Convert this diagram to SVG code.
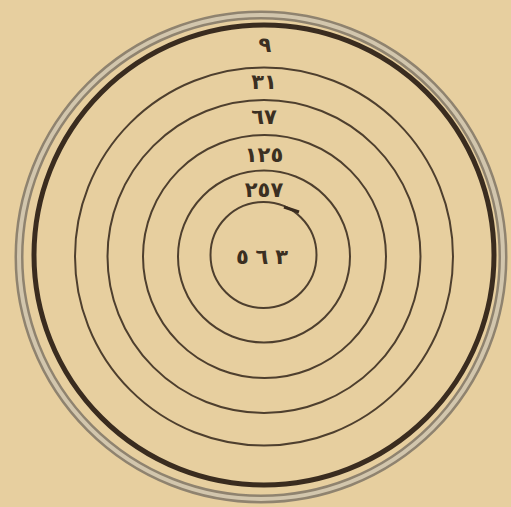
<svg xmlns="http://www.w3.org/2000/svg" width="511" height="507" viewBox="0 0 511 507">
<style>
.ring{fill:none;stroke:#4e3f2e;stroke-width:2}
.lbl{font-family:"DejaVu Sans",sans-serif;font-weight:bold;font-size:21px;fill:#3b2f22;text-anchor:middle}
</style>
<rect width="511" height="507" fill="#e7cf9f"/>
<g id="outer-frame">
<circle cx="261" cy="257" r="242" fill="none" stroke="#8f836f" stroke-width="9"/>
<circle cx="261" cy="257" r="242" fill="none" stroke="#d2c6ad" stroke-width="4"/>
<circle cx="264" cy="255" r="230" fill="none" stroke="#3a2c1f" stroke-width="5"/>
</g>
<g id="rings">
<circle class="ring" cx="264" cy="256.5" r="189"/>
<circle class="ring" cx="264" cy="256.5" r="156.5"/>
<circle class="ring" cx="264.5" cy="256.5" r="121.5"/>
<circle class="ring" cx="264" cy="256.5" r="86"/>
<circle class="ring" cx="263.5" cy="255" r="53"/>
<path d="M284 207 L299 212" stroke="#3a2c1f" stroke-width="3" fill="none"/>
</g>
<g id="labels">
<text class="lbl" x="265" y="52">٩</text>
<text class="lbl" x="264" y="89">٣١</text>
<text class="lbl" x="264" y="124">٦٧</text>
<text class="lbl" x="264" y="162">١٢٥</text>
<text class="lbl" x="264" y="197">٢٥٧</text>
<text class="lbl" x="262" y="264" textLength="52" lengthAdjust="spacing">٥٦٣</text>
</g>
</svg>
